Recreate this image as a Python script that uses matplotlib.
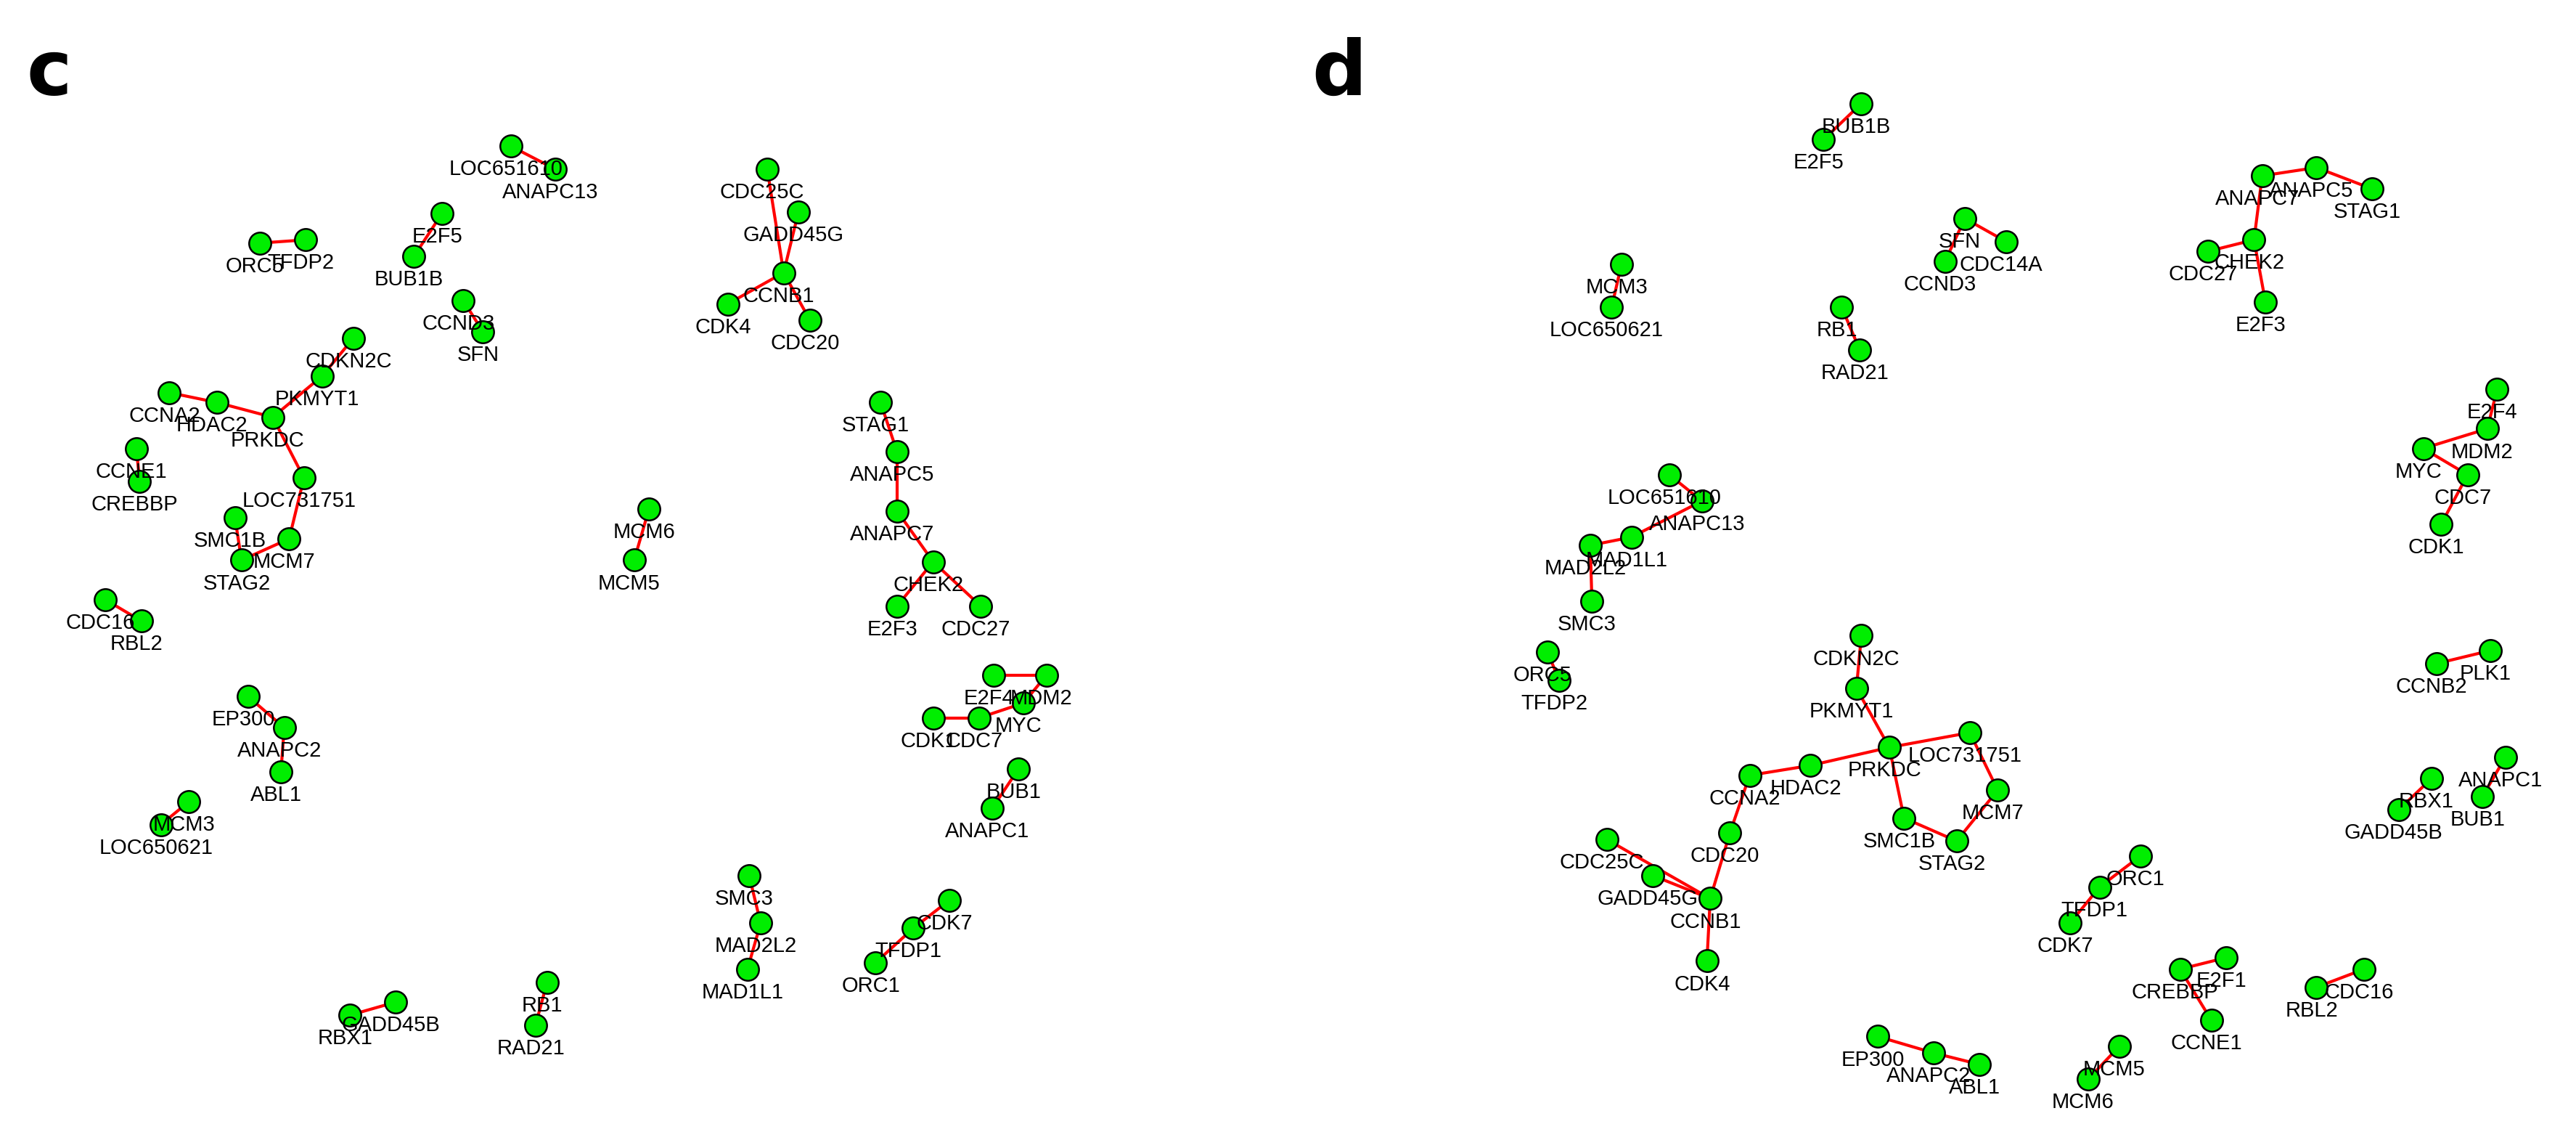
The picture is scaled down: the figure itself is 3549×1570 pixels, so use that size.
import matplotlib
matplotlib.use("Agg")
import matplotlib.pyplot as plt

# node positions (in reference pixel space, 1568x694 view)
nodes_c = {
 "LOC651610":(311,89),"ANAPC13":(338,103),"ORC5":(158,148),"TFDP2":(186,146),
 "E2F5":(269,130),"BUB1B":(252,156),"CCND3":(282,183),"SFN":(294,202),
 "CDC25C":(467,103),"GADD45G":(486,129),"CCNB1":(477,166),"CDK4":(443,185),"CDC20":(493,195),
 "CDKN2C":(215,206),"PKMYT1":(196,229),"CCNA2":(103,239),"HDAC2":(132,245),"PRKDC":(166,254),
 "LOC731751":(185,291),"MCM7":(176,328),"SMC1B":(143,315),"STAG2":(147,341),
 "CCNE1":(83,273),"CREBBP":(85,293),"MCM6":(395,310),"MCM5":(386,341),
 "STAG1":(536,245),"ANAPC5":(546,275),"ANAPC7":(546,311),"CHEK2":(568,342),"E2F3":(546,369),"CDC27":(597,369),
 "CDC16":(64,365),"RBL2":(86,378),
 "E2F4":(605,411),"MDM2":(637,411),"MYC":(623,428),"CDC7":(596,437),"CDK1":(568,437),
 "BUB1":(620,468),"ANAPC1":(604,492),
 "EP300":(151,424),"ANAPC2":(173,443),"ABL1":(171,470),
 "MCM3":(115,488),"LOC650621":(98,502),
 "SMC3":(456,533),"MAD2L2":(463,562),"MAD1L1":(455,590),
 "CDK7":(578,548),"TFDP1":(556,565),"ORC1":(533,586),
 "RBX1":(213,618),"GADD45B":(241,610),"RB1":(333,598),"RAD21":(326,624),
}
edges_c = [("LOC651610","ANAPC13"),("ORC5","TFDP2"),("E2F5","BUB1B"),("CCND3","SFN"),
 ("CDC25C","CCNB1"),("GADD45G","CCNB1"),("CCNB1","CDK4"),("CCNB1","CDC20"),
 ("CDKN2C","PKMYT1"),("PKMYT1","PRKDC"),("CCNA2","HDAC2"),("HDAC2","PRKDC"),("PRKDC","LOC731751"),
 ("LOC731751","MCM7"),("MCM7","STAG2"),("SMC1B","STAG2"),("CCNE1","CREBBP"),("MCM6","MCM5"),
 ("STAG1","ANAPC5"),("ANAPC5","ANAPC7"),("ANAPC7","CHEK2"),("CHEK2","E2F3"),("CHEK2","CDC27"),
 ("CDC16","RBL2"),("E2F4","MDM2"),("MDM2","MYC"),("MYC","CDC7"),("CDC7","CDK1"),("BUB1","ANAPC1"),
 ("EP300","ANAPC2"),("ANAPC2","ABL1"),("MCM3","LOC650621"),("SMC3","MAD2L2"),("MAD2L2","MAD1L1"),
 ("CDK7","TFDP1"),("TFDP1","ORC1"),("RBX1","GADD45B"),("RB1","RAD21")]

nodes_d = {
 "BUB1B":(1133,63),"E2F5":(1110,85),"SFN":(1196,133),"CDC14A":(1221,147),"CCND3":(1184,159),
 "ANAPC5":(1410,102),"ANAPC7":(1377,107),"STAG1":(1444,115),"CHEK2":(1372,146),"CDC27":(1344,153),"E2F3":(1379,184),
 "MCM3":(987,161),"LOC650621":(981,187),"RB1":(1121,187),"RAD21":(1132,213),
 "E2F4":(1520,237),"MDM2":(1514,261),"MYC":(1475,273),"CDC7":(1502,289),"CDK1":(1486,319),
 "LOC651610":(1016,289),"ANAPC13":(1036,305),"MAD1L1":(993,327),"MAD2L2":(968,332),"SMC3":(969,366),
 "ORC5":(942,397),"TFDP2":(949,414),"CCNB2":(1483,404),"PLK1":(1516,396),
 "CDKN2C":(1133,387),"PKMYT1":(1130,419),"PRKDC":(1150,455),"HDAC2":(1102,466),"CCNA2":(1065,472),
 "LOC731751":(1199,446),"MCM7":(1216,481),"SMC1B":(1159,498),"STAG2":(1191,512),
 "CDC20":(1053,507),"CDC25C":(978,511),"GADD45G":(1006,533),"CCNB1":(1041,547),"CDK4":(1039,585),
 "ANAPC1":(1525,461),"BUB1":(1511,485),"RBX1":(1480,474),"GADD45B":(1460,493),
 "ORC1":(1303,521),"TFDP1":(1278,540),"CDK7":(1260,562),
 "CREBBP":(1327,590),"E2F1":(1355,583),"CCNE1":(1346,621),"RBL2":(1410,601),"CDC16":(1439,590),
 "EP300":(1143,631),"ANAPC2":(1177,641),"ABL1":(1205,648),"MCM5":(1290,637),"MCM6":(1271,657),
}
edges_d = [("BUB1B","E2F5"),("SFN","CDC14A"),("SFN","CCND3"),("ANAPC7","ANAPC5"),("ANAPC5","STAG1"),
 ("ANAPC7","CHEK2"),("CHEK2","CDC27"),("CHEK2","E2F3"),("MCM3","LOC650621"),("RB1","RAD21"),
 ("E2F4","MDM2"),("MDM2","MYC"),("MYC","CDC7"),("CDC7","CDK1"),("LOC651610","ANAPC13"),
 ("ANAPC13","MAD1L1"),("MAD1L1","MAD2L2"),("MAD2L2","SMC3"),("ORC5","TFDP2"),("CCNB2","PLK1"),
 ("CDKN2C","PKMYT1"),("PKMYT1","PRKDC"),("PRKDC","HDAC2"),("HDAC2","CCNA2"),("CCNA2","CDC20"),
 ("CDC20","CCNB1"),("PRKDC","LOC731751"),("LOC731751","MCM7"),("MCM7","STAG2"),("STAG2","SMC1B"),
 ("SMC1B","PRKDC"),("CDC25C","CCNB1"),("GADD45G","CCNB1"),("CCNB1","CDK4"),("ANAPC1","BUB1"),
 ("RBX1","GADD45B"),("ORC1","TFDP1"),("TFDP1","CDK7"),("CREBBP","E2F1"),("CREBBP","CCNE1"),
 ("RBL2","CDC16"),("EP300","ANAPC2"),("ANAPC2","ABL1"),("MCM5","MCM6")]

panels = [("c",(30,45),nodes_c,edges_c),("d",(815,45),nodes_d,edges_d)]

fig = plt.figure(figsize=(35.49,15.70), dpi=100)
ax = fig.add_axes([0,0,1,1])
ax.set_xlim(0,1568); ax.set_ylim(694,0); ax.axis("off")
for letter,(lx,ly),nodes,edges in panels:
    for a,b in edges:
        ax.plot([nodes[a][0],nodes[b][0]],[nodes[a][1],nodes[b][1]],color="#ff0000",lw=3,zorder=1)
    xs=[p[0] for p in nodes.values()]; ys=[p[1] for p in nodes.values()]
    ax.scatter(xs,ys,s=480,c="#00ee00",edgecolors="black",linewidths=1.8,zorder=2)
    for name,(x,y) in nodes.items():
        ax.text(x-3,y+8,name,ha="center",va="top",fontsize=21,family="Liberation Sans",zorder=3)
    ax.text(lx,ly,letter,ha="center",va="center",fontsize=76,fontweight="bold",family="DejaVu Sans")
fig.savefig("out.png",dpi=100)
